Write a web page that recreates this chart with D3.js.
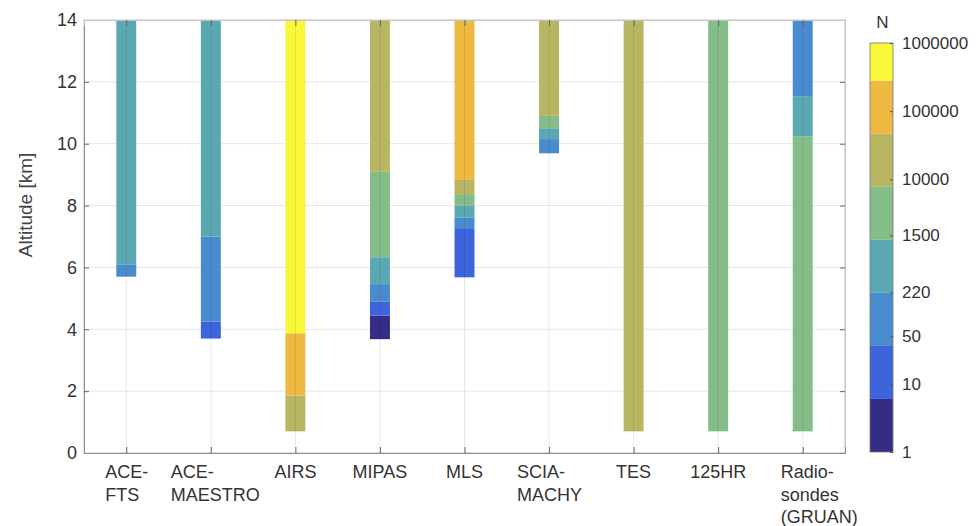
<!DOCTYPE html>
<html>
<head>
<meta charset="utf-8">
<script src="https://cdn.jsdelivr.net/npm/d3@7"></script>
<style>
  body { margin: 0; background: #fff; }
  svg { font-family: "Liberation Sans", Arial, sans-serif; }
</style>
</head>
<body>
<svg id="chart" width="977" height="526"></svg>
<script>
const instruments = ["ACE-FTS", "ACE-MAESTRO", "AIRS", "MIPAS", "MLS", "SCIAMACHY", "TES", "125HR", "Radiosondes"];
const tickLines = [["ACE-", "FTS"], ["ACE-", "MAESTRO"], ["AIRS"], ["MIPAS"], ["MLS"],
                   ["SCIA-", "MACHY"], ["TES"], ["125HR"], ["Radio-", "sondes", "(GRUAN)"]];

// layer boundaries (km), bottom to top, for each instrument
const bounds = [
  [5.7, 6.1, 14],
  [3.7, 4.25, 7.0, 14],
  [0.7, 1.85, 3.87, 14],
  [3.68, 4.44, 4.89, 5.46, 6.33, 9.09, 14],
  [5.68, 7.27, 7.62, 7.99, 8.37, 8.83, 14],
  [9.69, 10.15, 10.5, 10.9, 14],
  [0.7, 14],
  [0.7, 14],
  [0.7, 10.23, 11.52, 14]
];
// number of coincidences N in each layer (one per interval above)
const counts = [
  [100, 500],
  [15, 100, 500],
  [20000, 100000, 500000],
  [3, 15, 100, 500, 3000, 20000],
  [15, 100, 500, 3000, 20000, 100000],
  [100, 500, 3000, 20000],
  [20000],
  [3000],
  [3000, 500, 100]
];

const nEdges = [1, 6, 36, 216, 1296, 7776, 46656, 279936, 1000000];
const nColors = ["#342d85", "#3d64dc", "#4a8bd0", "#5aa8b1", "#84bd87", "#b9b663", "#edb943", "#f8f73a"];
const nTicks = [1, 10, 50, 220, 1500, 10000, 100000, 1000000];
const altTicks = [0, 2, 4, 6, 8, 10, 12, 14];

const svg = d3.select("#chart");
const margin = {top: 20, right: 132, bottom: 73, left: 84};
const W = 977, H = 526;

const x = d3.scalePoint().domain(instruments).range([margin.left, W - margin.right]).padding(0.5);
const y = d3.scaleLinear().domain([0, 14]).range([H - margin.bottom, margin.top]);
const color = d3.scaleThreshold().domain(nEdges.slice(1, -1)).range(nColors);
const barW = x.step() * 0.236;

const axisGray = "#8c8c8c", textCol = "#333";

// horizontal grid
svg.append("g").selectAll("line").data(altTicks.slice(1, -1)).join("line")
  .attr("x1", margin.left).attr("x2", W - margin.right)
  .attr("y1", d => y(d)).attr("y2", d => y(d))
  .attr("stroke", "#e6e6e6");

// bars
instruments.forEach((name, i) => {
  const segs = counts[i].map((n, k) => ({lo: bounds[i][k], hi: bounds[i][k + 1], n}));
  svg.append("g").selectAll("rect").data(segs).join("rect")
    .attr("x", x(name) - barW / 2)
    .attr("width", barW)
    .attr("y", d => y(d.hi))
    .attr("height", d => y(d.lo) - y(d.hi))
    .attr("fill", d => color(d.n));
});

// vertical grid (drawn over the bars, faint)
svg.append("g").selectAll("line").data(instruments).join("line")
  .attr("x1", d => x(d)).attr("x2", d => x(d))
  .attr("y1", margin.top).attr("y2", H - margin.bottom)
  .attr("stroke", "#000").attr("stroke-opacity", 0.09);

// box
svg.append("rect")
  .attr("x", margin.left).attr("y", margin.top)
  .attr("width", W - margin.right - margin.left)
  .attr("height", H - margin.bottom - margin.top)
  .attr("fill", "none").attr("stroke", "#c4c4c4");

// axes
const yAxis = svg.append("g").attr("transform", `translate(${margin.left},0)`)
  .call(d3.axisLeft(y).tickValues(altTicks).tickSize(-5).tickPadding(7));
const yAxisR = svg.append("g").attr("transform", `translate(${W - margin.right},0)`)
  .call(d3.axisRight(y).tickValues(altTicks).tickSize(-5).tickFormat(""));
const xAxis = svg.append("g").attr("transform", `translate(0,${H - margin.bottom})`)
  .call(d3.axisBottom(x).tickSize(-6).tickFormat(""));
const xAxisT = svg.append("g").attr("transform", `translate(0,${margin.top})`)
  .call(d3.axisTop(x).tickSize(-6).tickFormat(""));

[yAxis, yAxisR, xAxis, xAxisT].forEach(g => {
  g.select(".domain").attr("stroke", axisGray);
  g.selectAll(".tick line").attr("stroke", "#666");
  g.selectAll("text").attr("fill", textCol).style("font-size", "18px")
    .style("font-family", "Liberation Sans, Arial, sans-serif");
});
yAxisR.select(".domain").attr("stroke", "#c4c4c4");
xAxisT.select(".domain").attr("stroke", "#c4c4c4");

// x tick labels (multi-line)
const labelDx = [-21, -40, 0, 0, 0, -32, 0, 0, -22];
instruments.forEach((name, i) => {
  const lines = tickLines[i];
  const multi = lines.length > 1;
  const t = svg.append("text")
    .attr("x", x(name) + (multi ? labelDx[i] : 0))
    .attr("y", H - margin.bottom + 25)
    .attr("text-anchor", multi ? "start" : "middle")
    .attr("fill", textCol)
    .style("font-size", "18px");
  lines.forEach((l, k) => {
    t.append("tspan").attr("x", x(name) + (multi ? labelDx[i] : 0))
      .attr("dy", k === 0 ? 0 : 22.5).text(l);
  });
});

// y label
svg.append("text")
  .attr("transform", "translate(32,205) rotate(-90)")
  .attr("text-anchor", "middle")
  .attr("fill", "#444")
  .style("font-size", "19px")
  .text("Altitude [km]");

// colorbar
const cb = {x: 870, w: 23, top: 43, bottom: 452};
const cy = d3.scaleLog().domain([1, 1000000]).range([cb.bottom, cb.top]);
svg.append("g").selectAll("rect").data(nColors).join("rect")
  .attr("x", cb.x).attr("width", cb.w)
  .attr("y", (d, i) => cy(nEdges[i + 1]))
  .attr("height", (d, i) => cy(nEdges[i]) - cy(nEdges[i + 1]))
  .attr("fill", d => d);
svg.append("rect")
  .attr("x", cb.x).attr("y", cb.top).attr("width", cb.w).attr("height", cb.bottom - cb.top)
  .attr("fill", "none").attr("stroke", "#777").attr("stroke-width", 0.8);
const cbAxis = svg.append("g").attr("transform", `translate(${cb.x + cb.w},0)`)
  .call(d3.axisRight(cy).tickValues(nTicks).tickSize(-3).tickPadding(9).tickFormat(d3.format("d")));
cbAxis.select(".domain").remove();
cbAxis.selectAll(".tick line").attr("stroke", "#555");
cbAxis.selectAll("text").attr("fill", textCol).style("font-size", "17px")
  .style("font-family", "Liberation Sans, Arial, sans-serif");

svg.append("text")
  .attr("x", cb.x + cb.w / 2 + 1).attr("y", 28)
  .attr("text-anchor", "middle")
  .attr("fill", textCol)
  .style("font-size", "17px")
  .text("N");
</script>
</body>
</html>
